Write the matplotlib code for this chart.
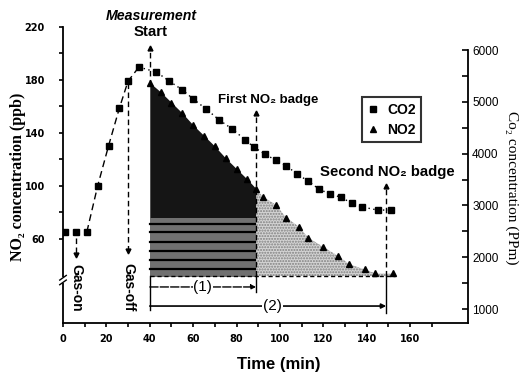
import matplotlib
matplotlib.use("Agg")
import matplotlib.pyplot as plt
from matplotlib.lines import Line2D

# CO2 (squares, right axis, ppm)
co2_t = [1, 6, 11, 16, 21, 26, 30, 35, 43, 49, 55, 60, 66, 72, 78, 84, 88,
         93, 98, 103, 108, 113, 118, 123, 128, 133, 138, 145, 151]
co2_ppm = [2490, 2490, 2490, 3380, 4150, 4880, 5400, 5670, 5575, 5400, 5230,
           5055, 4860, 4650, 4475, 4265, 4125, 3990, 3875, 3760, 3605, 3470,
           3315, 3220, 3160, 3045, 2970, 2910, 2910]

# NO2 (triangles, left axis, ppb)
no2_t = [40, 45, 50, 55, 60, 65, 70, 75, 80, 85, 89, 92, 98, 103, 109, 113,
         120, 127, 132, 139, 144, 152]
no2_ppb = [178, 171, 163, 155, 146, 138, 130, 121, 113, 105, 98, 92, 86, 76,
           69, 61, 54, 47, 41, 37, 34, 34]

left_ticks = [60, 100, 140, 180, 220]
right_ticks = [1000, 2000, 3000, 4000, 5000, 6000]
x_ticks = [0, 20, 40, 60, 80, 100, 120, 140, 160]

gas_on, gas_off, start = 6, 30, 40
badge1, badge2 = 89, 149
base = 32

SANS = ["Liberation Sans", "DejaVu Sans"]
SERIF = ["Liberation Serif", "DejaVu Serif"]

fig = plt.figure(figsize=(5.2, 3.78), dpi=100)
ax = fig.add_axes([63 / 520, 55 / 378, 405 / 520, 296 / 378])
ax2 = ax.twinx()

ax.set_xlim(0, 186.7)
ax.set_ylim(-3.4, 220)
ax2.set_ylim(730, 6444)

# shaded NO2 area
dark = [i for i, t in enumerate(no2_t) if t <= badge1]
light = [i for i, t in enumerate(no2_t) if t >= badge1]
ax.fill_between([no2_t[i] for i in dark], [no2_ppb[i] for i in dark], base,
                color="#151515", lw=0, zorder=1)
ax.fill_between([no2_t[i] for i in dark], 76, base, color="#707070", lw=0, zorder=1)
for lv in [37, 44, 51, 58, 65, 71]:
    ax.plot([start, badge1], [lv, lv], color="black", lw=1.6, zorder=1)
ax.fill_between([no2_t[i] for i in light], [no2_ppb[i] for i in light], base,
                facecolor="#d4d4d4", edgecolor="#808080", hatch="......", lw=0, zorder=1)
ax.plot([start, 153], [base, base], color="black", lw=1, ls=(0, (3, 2)), zorder=2)

ax.plot(no2_t, no2_ppb, ls="none", marker="^", ms=5, color="black", zorder=3)

# CO2 squares and connecting lines
ax2.plot(co2_t[2:8], co2_ppm[2:8], color="black", lw=1, ls=(0, (5, 3)), zorder=2)
ax2.plot(co2_t[7:], co2_ppm[7:], color="black", lw=1, ls=(0, (1, 2.5)), zorder=2)
ax2.plot(co2_t, co2_ppm, ls="none", marker="s", ms=4.5, color="black", zorder=3)

# event lines and arrows
def vline(x, y0, y1, ls=(0, (4, 2.5)), head=None):
    ax.plot([x, x], [y0, y1], color="black", lw=1, ls=ls, clip_on=False, zorder=2)
    if head:
        ax.plot(x, y1, marker=head, ms=3.5, color="black", clip_on=False, zorder=2)

vline(gas_on, 61, 48, head="v")
vline(gas_off, 178, 51, head="v")
vline(start, 176, 204, head="^")
vline(start, base, 6.5, ls="-")
vline(badge1, base, 155, head="^")
vline(badge1, base, 20, ls="-")
vline(badge2, base, 100, head="^")
vline(badge2, base, 4, ls="-")

ax.annotate("", xy=(badge1, 23.8), xytext=(start, 23.8),
            arrowprops=dict(arrowstyle="-|>", color="black", lw=1, ls=(0, (6, 1.5)),
                            mutation_scale=7, shrinkA=0, shrinkB=0))
ax.annotate("", xy=(badge2, 9.4), xytext=(start, 9.4),
            arrowprops=dict(arrowstyle="-|>", color="black", lw=1.2,
                            mutation_scale=7, shrinkA=0, shrinkB=0))
box = dict(facecolor="white", edgecolor="none", pad=0.5)
ax.text(64.5, 23.8, "(1)", ha="center", va="center", fontsize=11,
        family=SANS, bbox=box, zorder=4)
ax.text(96.5, 9.4, "(2)", ha="center", va="center", fontsize=11,
        family=SANS, bbox=box, zorder=4)

ax.text(gas_on, 23, "Gas-on", rotation=270, ha="center", va="center",
        fontsize=10, fontweight="bold", family=SANS)
ax.text(gas_off, 24, "Gas-off", rotation=270, ha="center", va="center",
        fontsize=10, fontweight="bold", family=SANS)
ax.text(40.6, 228.5, "Measurement", ha="center", va="center", fontsize=10.2,
        fontweight="bold", style="italic", family=SANS)
ax.text(40.6, 216.5, "Start", ha="center", va="center", fontsize=10.8,
        fontweight="bold", family=SANS)
ax.text(94.5, 165, "First NO\u2082 badge", ha="center", va="center",
        fontsize=9.5, fontweight="bold", family=SANS)
ax.text(149.4, 110.6, "Second NO\u2082 badge", ha="center", va="center",
        fontsize=10.7, fontweight="bold", family=SANS)

# axis break mark
ax.fill_between([-1.2, 1.2], 26.5, 31.5, color="white", lw=0, clip_on=False, zorder=5)
for y in (25.5, 29):
    ax.plot([-1.5, 1.5], [y, y + 3.5], color="black", lw=1, clip_on=False, zorder=6)

# spines and ticks
for s in ["top", "right"]:
    ax.spines[s].set_visible(False)
for s in ["top", "left", "bottom"]:
    ax2.spines[s].set_visible(False)
ax.spines["left"].set_linewidth(1.3)
ax.spines["bottom"].set_linewidth(1.3)
ax2.spines["right"].set_linewidth(1.3)
ax2.spines["right"].set_bounds(730, 6000)

ax.set_yticks(left_ticks)
ax.set_yticks([80, 120, 160, 200], minor=True)
ax.set_yticklabels([str(v) for v in left_ticks])
ax.set_xticks(x_ticks)
ax.set_xticks(range(10, 181, 20), minor=True)
ax.set_xticklabels([str(v) for v in x_ticks])
ax.tick_params(axis="both", which="both", direction="out", length=3, width=1.2,
               labelsize=7)
ax.tick_params(axis="y", pad=10)
ax.tick_params(axis="x", pad=5)
for lab in ax.get_xticklabels() + ax.get_yticklabels():
    lab.set_fontweight("bold")

ax2.set_yticks(right_ticks)
ax2.set_yticks([1500, 2500, 3500, 4500, 5500], minor=True)
ax2.set_yticklabels([str(v) for v in right_ticks])
ax2.tick_params(axis="y", which="both", direction="in", length=4, width=1.2,
                labelsize=8.5, pad=3)
for lab in ax2.get_yticklabels():
    lab.set_family(SANS)

# axis labels
fig.text(18 / 520, 1 - 177 / 378, "NO\u2082 concentration (ppb)", rotation=90,
         ha="center", va="center", fontsize=11.5, fontweight="bold", family=SERIF)
fig.text(512 / 520, 1 - 188 / 378, "Co\u2082 concentration (PPm)", rotation=270,
         ha="center", va="center", fontsize=11, family=SERIF)
fig.text(279 / 520, 1 - 365 / 378, "Time (min)", ha="center", va="center",
         fontsize=12, fontweight="bold", family=SANS)

handles = [Line2D([], [], ls="none", marker="s", ms=4.5, color="black"),
           Line2D([], [], ls="none", marker="^", ms=5, color="black")]
leg = fig.legend(handles, ["CO2", "NO2"], loc="upper left",
                 bbox_to_anchor=(362 / 520, 1 - 97 / 378), frameon=True,
                 fancybox=False, handlelength=0.8, handletextpad=0.6,
                 borderpad=0.4, labelspacing=0.45, borderaxespad=0,
                 prop={"family": SANS, "weight": "bold", "size": 10})
leg.get_frame().set_edgecolor("black")
leg.get_frame().set_linewidth(1.5)

fig.savefig("out.png", dpi=100)
